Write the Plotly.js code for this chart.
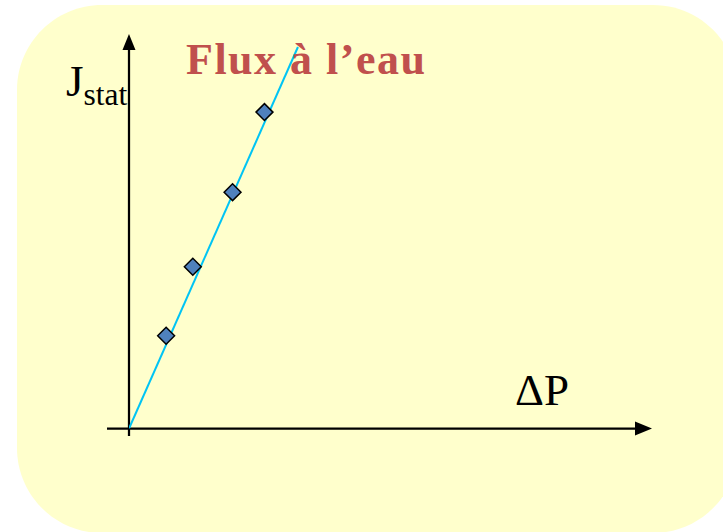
<!DOCTYPE html>
<html>
<head>
<meta charset="utf-8">
<script src="https://cdn.plot.ly/plotly-3.0.1.min.js"></script>
<style>
  html, body { margin: 0; padding: 0; background: #ffffff; }
  #chart { width: 723px; height: 532px; }
</style>
</head>
<body>
<div id="chart"></div>
<script>
// Pure water flux versus transmembrane pressure
const deltaP = [0.71, 1.22, 1.98, 2.59];     // ΔP (arbitrary units)
const jStat = [2.35, 4.10, 5.99, 8.02];      // steady-state flux J_stat
const fitX = [0, 3.23];                      // straight line through the origin
const fitY = [0, 9.67];

const titleText = 'Flux à l’eau';
const yLabel = 'J<sub>stat</sub>';
const xLabel = 'ΔP';

const W = 723, H = 532;
const serif = '"Liberation Serif", "Times New Roman", serif';
// pixel -> paper helpers for the decorative frame and axis arrows
const px = x => x / W;
const py = y => 1 - y / H;

// rounded panel behind the chart
function roundedRect(l, t, r, b, rad) {
  const k = 0.5523 * rad;
  const P = (x, y) => px(x).toFixed(5) + ',' + py(y).toFixed(5);
  return 'M' + P(l + rad, t) +
    ' L' + P(r - rad, t) +
    ' C' + P(r - rad + k, t) + ' ' + P(r, t + rad - k) + ' ' + P(r, t + rad) +
    ' L' + P(r, b - rad) +
    ' C' + P(r, b - rad + k) + ' ' + P(r - rad + k, b) + ' ' + P(r - rad, b) +
    ' L' + P(l + rad, b) +
    ' C' + P(l + rad - k, b) + ' ' + P(l, b - rad + k) + ' ' + P(l, b - rad) +
    ' L' + P(l, t + rad) +
    ' C' + P(l, t + rad - k) + ' ' + P(l + rad - k, t) + ' ' + P(l + rad, t) + ' Z';
}
function tri(points) {
  return 'M' + points.map(p => px(p[0]).toFixed(5) + ',' + py(p[1]).toFixed(5)).join(' L') + ' Z';
}

const ox = 129, oy = 428.5;   // origin of the drawn axes
const axisColor = '#000000';

const traces = [
  {
    x: fitX, y: fitY, type: 'scatter', mode: 'lines',
    line: { color: '#00C4F4', width: 2 },
    hoverinfo: 'skip', showlegend: false
  },
  {
    x: deltaP, y: jStat, type: 'scatter', mode: 'markers',
    marker: { symbol: 'diamond', size: 13, color: '#4F81BD',
              line: { color: '#000000', width: 1.5 } },
    showlegend: false
  }
];

const layout = {
  width: W, height: H,
  margin: { l: 0, r: 0, t: 0, b: 0 },
  paper_bgcolor: '#ffffff',
  plot_bgcolor: 'rgba(0,0,0,0)',
  showlegend: false,
  font: { family: serif },
  xaxis: { domain: [ox / W, 652 / W], range: [0, 10], visible: false, fixedrange: true },
  yaxis: { domain: [1 - oy / H, 1 - 34 / H], range: [0, 10], visible: false, fixedrange: true },
  shapes: [
    { type: 'path', xref: 'paper', yref: 'paper', layer: 'below',
      path: roundedRect(17, 5, 738, 533, 85),
      fillcolor: '#FFFFCC', line: { width: 0 } },
    // horizontal axis
    { type: 'line', xref: 'paper', yref: 'paper', layer: 'below',
      x0: px(107), y0: py(oy), x1: px(637), y1: py(oy),
      line: { color: axisColor, width: 2.25 } },
    { type: 'path', xref: 'paper', yref: 'paper', layer: 'below',
      path: tri([[635, oy - 7], [652, oy], [635, oy + 7]]),
      fillcolor: axisColor, line: { width: 0 } },
    // vertical axis
    { type: 'line', xref: 'paper', yref: 'paper', layer: 'below',
      x0: px(ox), y0: py(436), x1: px(ox), y1: py(48),
      line: { color: axisColor, width: 2.25 } },
    { type: 'path', xref: 'paper', yref: 'paper', layer: 'below',
      path: tri([[ox - 6.5, 50], [ox, 34], [ox + 6.5, 50]]),
      fillcolor: axisColor, line: { width: 0 } }
  ],
  annotations: [
    { text: '<span style="letter-spacing:1.5px">' + titleText + '</span>',
      xref: 'paper', yref: 'paper', x: px(184), y: py(33),
      xanchor: 'left', yanchor: 'top', showarrow: false,
      font: { family: serif, size: 44, color: '#C0504D', weight: 'bold' } },
    { text: yLabel,
      xref: 'paper', yref: 'paper', x: px(64), y: py(54),
      xanchor: 'left', yanchor: 'top', showarrow: false,
      font: { family: serif, size: 45, color: '#000000' } },
    { text: xLabel,
      xref: 'paper', yref: 'paper', x: px(513), y: py(363),
      xanchor: 'left', yanchor: 'top', showarrow: false,
      font: { family: serif, size: 45, color: '#000000' } }
  ]
};

Plotly.newPlot('chart', traces, layout, { displayModeBar: false, staticPlot: true });
</script>
</body>
</html>
